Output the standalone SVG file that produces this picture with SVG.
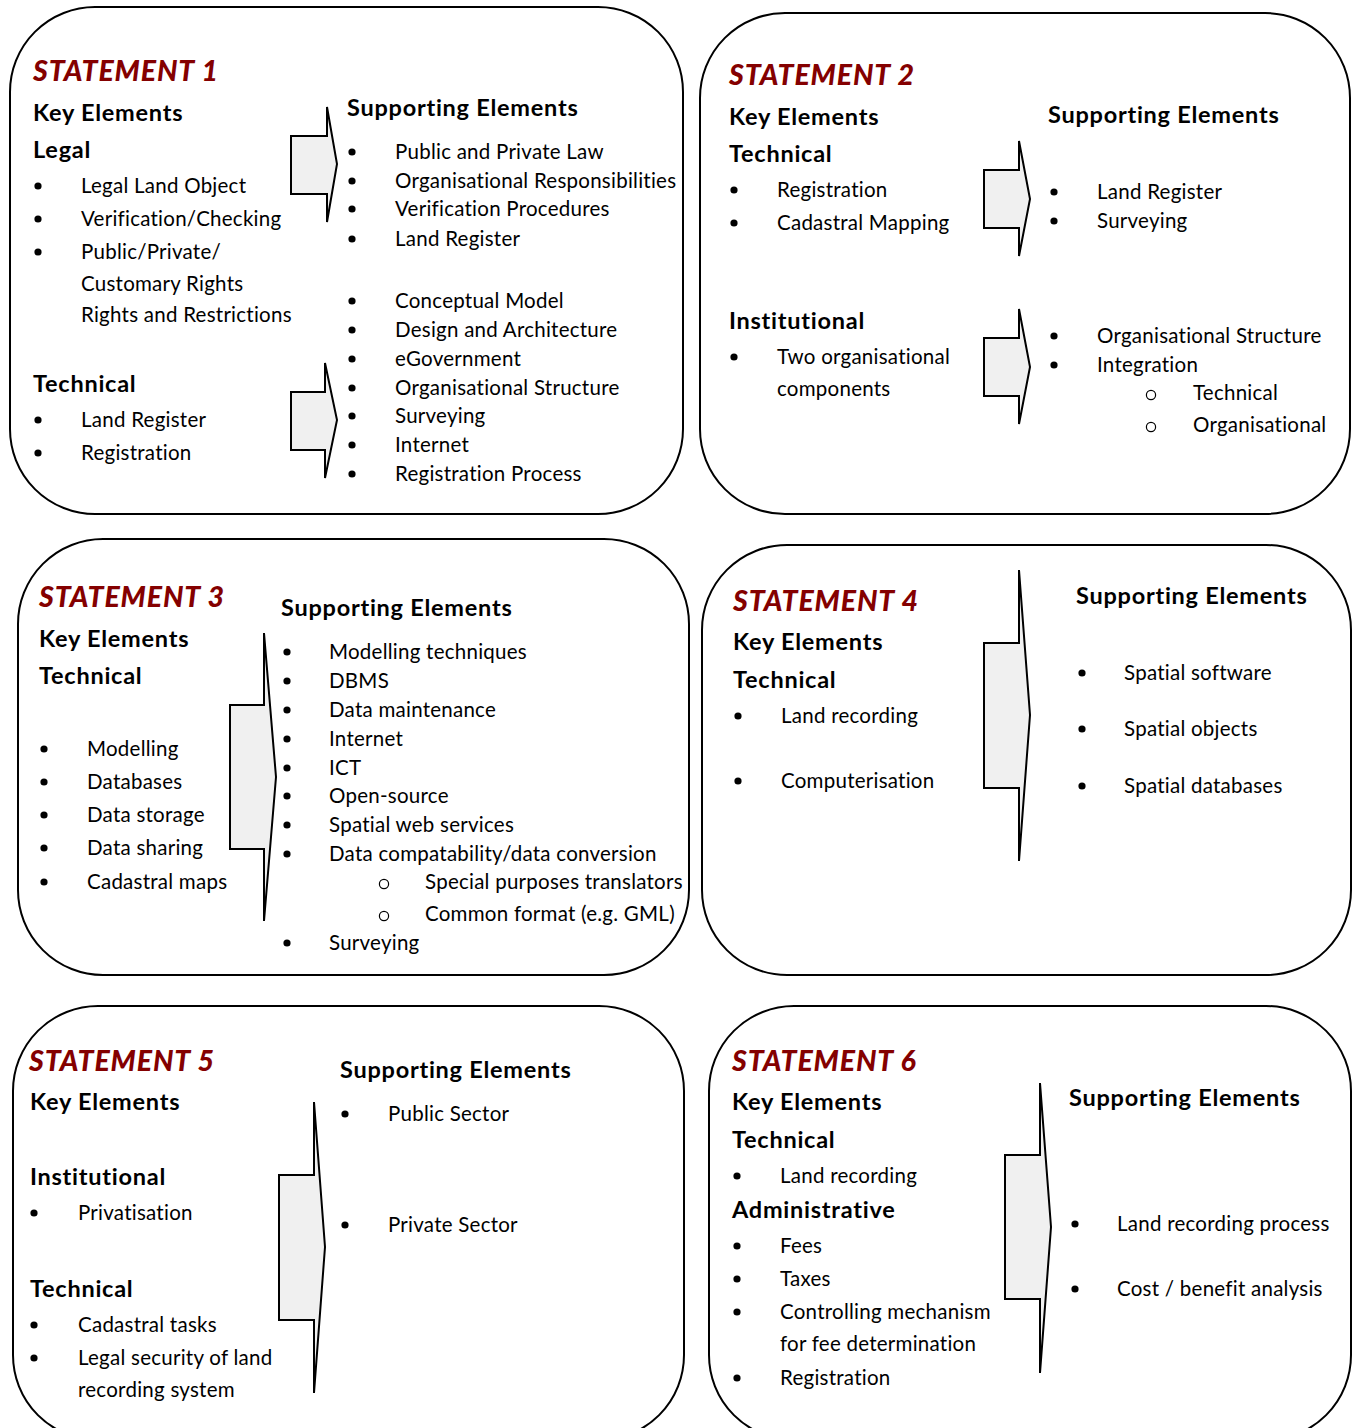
<svg xmlns="http://www.w3.org/2000/svg" xmlns:xlink="http://www.w3.org/1999/xlink" width="1359" height="1428" viewBox="0 0 1359 1428">
<style>
.box{fill:#fff;stroke:#000;stroke-width:2}
.arr{fill:#f0f0f0;stroke:#000;stroke-width:2;stroke-linejoin:miter}
text{font-family:Lato,"Liberation Sans",sans-serif;fill:#000}
.t{font-size:20.5px;letter-spacing:0.25px}
.h{font-size:23.5px;font-weight:bold;letter-spacing:0.75px}
.s{font-size:28.5px;font-weight:900;font-style:italic;fill:#840000;letter-spacing:0.9px}
</style>
<defs>
<circle id="b" r="3.6" fill="#000"/>
<circle id="o" r="4.6" fill="none" stroke="#000" stroke-width="1.2"/>
</defs>
<rect width="1359" height="1428" fill="#fff"/>

<g id="statement1">
<rect class="box" x="10" y="7" width="673" height="507" rx="85" ry="85"/>
<text class="s" x="33" y="81">STATEMENT 1</text>
<text class="h" x="33" y="121">Key Elements</text>
<text class="h" x="33" y="158">Legal</text>
<use href="#b" x="38" y="186"/><text class="t" x="81" y="193">Legal Land Object</text>
<use href="#b" x="38" y="219"/><text class="t" x="81" y="226">Verification/Checking</text>
<use href="#b" x="38" y="252"/><text class="t" x="81" y="259">Public/Private/</text>
<text class="t" x="81" y="291">Customary Rights</text>
<text class="t" x="81" y="322">Rights and Restrictions</text>
<text class="h" x="33" y="392">Technical</text>
<use href="#b" x="38" y="420"/><text class="t" x="81" y="427">Land Register</text>
<use href="#b" x="38" y="453"/><text class="t" x="81" y="460">Registration</text>
<text class="h" x="347" y="116">Supporting Elements</text>
<use href="#b" x="352" y="152"/><text class="t" x="395" y="159">Public and Private Law</text>
<use href="#b" x="352" y="181"/><text class="t" x="395" y="188">Organisational Responsibilities</text>
<use href="#b" x="352" y="209"/><text class="t" x="395" y="216">Verification Procedures</text>
<use href="#b" x="352" y="239"/><text class="t" x="395" y="246">Land Register</text>
<use href="#b" x="352" y="301"/><text class="t" x="395" y="308">Conceptual Model</text>
<use href="#b" x="352" y="330"/><text class="t" x="395" y="337">Design and Architecture</text>
<use href="#b" x="352" y="359"/><text class="t" x="395" y="366">eGovernment</text>
<use href="#b" x="352" y="388"/><text class="t" x="395" y="395">Organisational Structure</text>
<use href="#b" x="352" y="416"/><text class="t" x="395" y="423">Surveying</text>
<use href="#b" x="352" y="445"/><text class="t" x="395" y="452">Internet</text>
<use href="#b" x="352" y="474"/><text class="t" x="395" y="481">Registration Process</text>
</g>

<g id="statement2">
<rect class="box" x="700" y="13" width="650" height="501" rx="85" ry="85"/>
<text class="s" x="729" y="85">STATEMENT 2</text>
<text class="h" x="729" y="125">Key Elements</text>
<text class="h" x="729" y="162">Technical</text>
<use href="#b" x="734" y="190"/><text class="t" x="777" y="197">Registration</text>
<use href="#b" x="734" y="223"/><text class="t" x="777" y="230">Cadastral Mapping</text>
<text class="h" x="729" y="329">Institutional</text>
<use href="#b" x="734" y="357"/><text class="t" x="777" y="364">Two organisational</text>
<text class="t" x="777" y="396">components</text>
<text class="h" x="1048" y="123">Supporting Elements</text>
<use href="#b" x="1054" y="192"/><text class="t" x="1097" y="199">Land Register</text>
<use href="#b" x="1054" y="221"/><text class="t" x="1097" y="228">Surveying</text>
<use href="#b" x="1054" y="336"/><text class="t" x="1097" y="343">Organisational Structure</text>
<use href="#b" x="1054" y="365"/><text class="t" x="1097" y="372">Integration</text>
<use href="#o" x="1151" y="395"/><text class="t" x="1193" y="400">Technical</text>
<use href="#o" x="1151" y="427"/><text class="t" x="1193" y="432">Organisational</text>
</g>

<g id="statement3">
<rect class="box" x="18" y="539" width="671" height="436" rx="85" ry="85"/>
<text class="s" x="39" y="607">STATEMENT 3</text>
<text class="h" x="39" y="647">Key Elements</text>
<text class="h" x="39" y="684">Technical</text>
<use href="#b" x="44" y="749"/><text class="t" x="87" y="756">Modelling</text>
<use href="#b" x="44" y="782"/><text class="t" x="87" y="789">Databases</text>
<use href="#b" x="44" y="815"/><text class="t" x="87" y="822">Data storage</text>
<use href="#b" x="44" y="848"/><text class="t" x="87" y="855">Data sharing</text>
<use href="#b" x="44" y="882"/><text class="t" x="87" y="889">Cadastral maps</text>
<text class="h" x="281" y="616">Supporting Elements</text>
<use href="#b" x="287" y="652"/><text class="t" x="329" y="659">Modelling techniques</text>
<use href="#b" x="287" y="681"/><text class="t" x="329" y="688">DBMS</text>
<use href="#b" x="287" y="710"/><text class="t" x="329" y="717">Data maintenance</text>
<use href="#b" x="287" y="739"/><text class="t" x="329" y="746">Internet</text>
<use href="#b" x="287" y="768"/><text class="t" x="329" y="775">ICT</text>
<use href="#b" x="287" y="796"/><text class="t" x="329" y="803">Open-source</text>
<use href="#b" x="287" y="825"/><text class="t" x="329" y="832">Spatial web services</text>
<use href="#b" x="287" y="854"/><text class="t" x="329" y="861">Data compatability/data conversion</text>
<use href="#o" x="384" y="884"/><text class="t" x="425" y="889">Special purposes translators</text>
<use href="#o" x="384" y="916"/><text class="t" x="425" y="921">Common format (e.g. GML)</text>
<use href="#b" x="287" y="943"/><text class="t" x="329" y="950">Surveying</text>
</g>

<g id="statement4">
<rect class="box" x="702" y="545" width="649" height="430" rx="85" ry="85"/>
<text class="s" x="733" y="611">STATEMENT 4</text>
<text class="h" x="733" y="650">Key Elements</text>
<text class="h" x="733" y="688">Technical</text>
<use href="#b" x="738" y="716"/><text class="t" x="781" y="723">Land recording</text>
<use href="#b" x="738" y="781"/><text class="t" x="781" y="788">Computerisation</text>
<text class="h" x="1076" y="604">Supporting Elements</text>
<use href="#b" x="1082" y="673"/><text class="t" x="1124" y="680">Spatial software</text>
<use href="#b" x="1082" y="729"/><text class="t" x="1124" y="736">Spatial objects</text>
<use href="#b" x="1082" y="786"/><text class="t" x="1124" y="793">Spatial databases</text>
</g>

<g id="statement5">
<rect class="box" x="13" y="1006" width="671" height="434" rx="85" ry="85"/>
<text class="s" x="29" y="1071">STATEMENT 5</text>
<text class="h" x="30" y="1110">Key Elements</text>
<text class="h" x="30" y="1185">Institutional</text>
<use href="#b" x="34" y="1213"/><text class="t" x="78" y="1220">Privatisation</text>
<text class="h" x="30" y="1297">Technical</text>
<use href="#b" x="34" y="1325"/><text class="t" x="78" y="1332">Cadastral tasks</text>
<use href="#b" x="34" y="1358"/><text class="t" x="78" y="1365">Legal security of land</text>
<text class="t" x="78" y="1397">recording system</text>
<text class="h" x="340" y="1078">Supporting Elements</text>
<use href="#b" x="345" y="1114"/><text class="t" x="388" y="1121">Public Sector</text>
<use href="#b" x="345" y="1225"/><text class="t" x="388" y="1232">Private Sector</text>
</g>

<g id="statement6">
<rect class="box" x="709" y="1006" width="642" height="434" rx="85" ry="85"/>
<text class="s" x="732" y="1071">STATEMENT 6</text>
<text class="h" x="732" y="1110">Key Elements</text>
<text class="h" x="732" y="1148">Technical</text>
<use href="#b" x="737" y="1176"/><text class="t" x="780" y="1183">Land recording</text>
<text class="h" x="732" y="1218">Administrative</text>
<use href="#b" x="737" y="1246"/><text class="t" x="780" y="1253">Fees</text>
<use href="#b" x="737" y="1279"/><text class="t" x="780" y="1286">Taxes</text>
<use href="#b" x="737" y="1312"/><text class="t" x="780" y="1319">Controlling mechanism</text>
<text class="t" x="780" y="1351">for fee determination</text>
<use href="#b" x="737" y="1378"/><text class="t" x="780" y="1385">Registration</text>
<text class="h" x="1069" y="1106">Supporting Elements</text>
<use href="#b" x="1075" y="1224"/><text class="t" x="1117" y="1231">Land recording process</text>
<use href="#b" x="1075" y="1289"/><text class="t" x="1117" y="1296">Cost / benefit analysis</text>
</g>

<g id="connectors">
<polygon class="arr" points="291,136 327,136 327,107 337,164 327,222 327,194 291,194"/>
<polygon class="arr" points="291,392 325,392 325,363 337,420 325,478 325,450 291,450"/>
<polygon class="arr" points="984,170 1019,170 1019,141 1030,199 1019,256 1019,228 984,228"/>
<polygon class="arr" points="984,338 1019,338 1019,309 1030,367 1019,424 1019,396 984,396"/>
<polygon class="arr" points="230,705 264,705 264,633 276,777 264,921 264,849 230,849"/>
<polygon class="arr" points="984,643 1019,643 1019,570 1030,715 1019,861 1019,788 984,788"/>
<polygon class="arr" points="279,1175 314,1175 314,1102 325,1247 314,1393 314,1320 279,1320"/>
<polygon class="arr" points="1005,1155 1040,1155 1040,1083 1051,1227 1040,1373 1040,1299 1005,1299"/>
</g>
</svg>
